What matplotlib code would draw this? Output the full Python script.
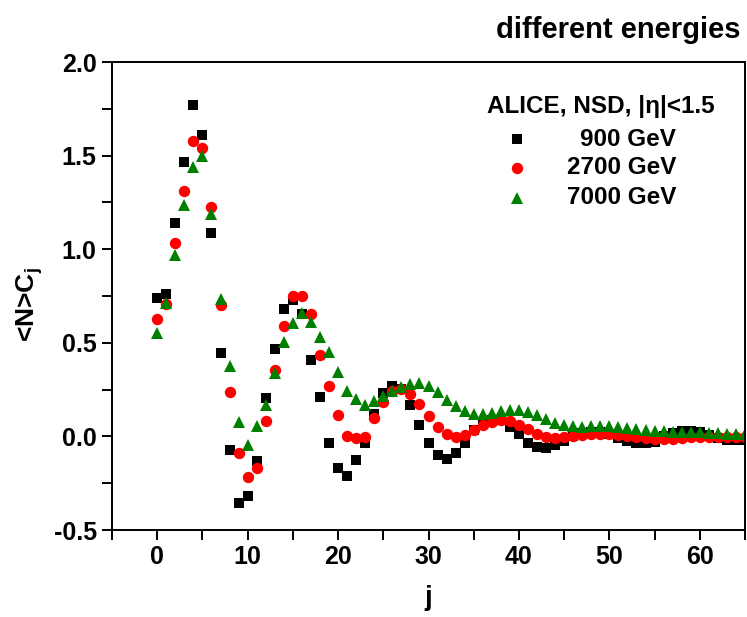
import matplotlib
matplotlib.use("Agg")
import matplotlib.pyplot as plt
from matplotlib.ticker import MultipleLocator, FormatStrFormatter

plt.rcParams['font.family'] = ['Liberation Sans', 'DejaVu Sans']
plt.rcParams['font.weight'] = 'bold'
plt.rcParams['mathtext.fontset'] = 'custom'
plt.rcParams['mathtext.rm'] = 'Liberation Sans:bold'
plt.rcParams['mathtext.it'] = 'Liberation Sans:bold'
plt.rcParams['mathtext.bf'] = 'Liberation Sans:bold'

# <N>C_j for j = 0..65 at three collision energies
j = list(range(66))

c_900 = [0.738, 0.759, 1.138, 1.467, 1.770, 1.612, 1.088, 0.447, -0.074, -0.354,
         -0.318, -0.130, 0.205, 0.465, 0.680, 0.729, 0.652, 0.408, 0.210, -0.037,
         -0.171, -0.213, -0.124, -0.037, 0.120, 0.234, 0.271, 0.255, 0.168, 0.063,
         -0.037, -0.101, -0.119, -0.089, -0.037, 0.034, 0.073, 0.085, 0.085, 0.052,
         0.013, -0.034, -0.058, -0.064, -0.046, -0.023, 0.000, 0.018, 0.025, 0.022,
         0.012, -0.011, -0.025, -0.034, -0.034, -0.028, 0.000, 0.020, 0.030, 0.030,
         0.025, 0.010, -0.010, -0.020, -0.020, -0.020]

c_2700 = [0.625, 0.707, 1.035, 1.311, 1.576, 1.539, 1.224, 0.702, 0.237, -0.089,
          -0.219, -0.167, 0.081, 0.355, 0.590, 0.750, 0.750, 0.656, 0.433, 0.271,
          0.113, 0.002, -0.007, -0.001, 0.100, 0.182, 0.244, 0.251, 0.226, 0.175,
          0.109, 0.050, 0.011, -0.003, 0.007, 0.034, 0.060, 0.077, 0.088, 0.081,
          0.063, 0.038, 0.012, -0.005, -0.009, -0.002, 0.002, 0.009, 0.014, 0.014,
          0.012, 0.007, 0.000, -0.005, -0.011, -0.014, -0.014, -0.012, -0.009, -0.005,
          -0.004, -0.004, -0.004, -0.004, -0.005, -0.005]

c_7000 = [0.554, 0.714, 0.969, 1.236, 1.437, 1.500, 1.188, 0.734, 0.376, 0.079,
          -0.044, 0.057, 0.168, 0.337, 0.506, 0.607, 0.658, 0.613, 0.533, 0.449,
          0.346, 0.244, 0.198, 0.168, 0.189, 0.218, 0.244, 0.262, 0.280, 0.283,
          0.271, 0.235, 0.194, 0.162, 0.136, 0.120, 0.118, 0.127, 0.138, 0.143,
          0.141, 0.130, 0.113, 0.091, 0.073, 0.061, 0.056, 0.052, 0.054, 0.056,
          0.056, 0.052, 0.047, 0.041, 0.036, 0.030, 0.027, 0.023, 0.023, 0.023,
          0.023, 0.020, 0.016, 0.014, 0.012, 0.011]

labels = ["900 GeV", "2700 GeV", "7000 GeV"]
legend_title = "ALICE, NSD, |\u03b7|<1.5"

W, H = 747, 617
fig = plt.figure(figsize=(W / 100, H / 100), dpi=100)
ax = fig.add_axes([112 / W, 1 - 530 / H, 633 / W, 468 / H])

ax.plot(j, c_900, ls='none', marker='s', ms=6.8, color='black', mew=0)
ax.plot(j, c_2700, ls='none', marker='o', ms=8.2, color='#ff0000', mew=0)
ax.plot(j, c_7000, ls='none', marker='^', ms=9.0, color='#008000', mew=0)

ax.set_xlim(-5, 65)
ax.set_ylim(-0.5, 2.0)
ax.xaxis.set_major_locator(MultipleLocator(10))
ax.xaxis.set_minor_locator(MultipleLocator(5))
ax.yaxis.set_major_locator(MultipleLocator(0.5))
ax.yaxis.set_minor_locator(MultipleLocator(0.25))
ax.yaxis.set_major_formatter(FormatStrFormatter('%.1f'))

for s in ax.spines.values():
    s.set_linewidth(1.4)
ax.tick_params(which='both', direction='out', length=7, width=1.4,
               top=False, right=False)
ax.tick_params(axis='y', which='major', labelsize=18, pad=4)
ax.tick_params(axis='x', which='major', labelsize=18, pad=4)
for lab in ax.get_xticklabels() + ax.get_yticklabels():
    lab.set_fontweight('bold')

fig.text(428 / W, 1 - 598 / H, 'j', ha='center', va='center',
         fontsize=20, fontweight='bold')
fig.text(30 / W, 1 - 305 / H, r'<N>C$_\mathrm{j}$', rotation=90,
         ha='center', va='center', fontsize=19, fontweight='bold')

fig.text(741 / W, 1 - 30 / H, 'different energies', ha='right', va='center',
         fontsize=21, fontweight='bold')

# legend block: title, markers and right-aligned labels
ax.text((601 - 112) / 633, (530 - 107) / 468, legend_title,
        transform=ax.transAxes, ha='center', va='center',
        fontsize=17.5, fontweight='bold')
markers = [('s', 'black', 6.8), ('o', '#ff0000', 8.2), ('^', '#008000', 9.0)]
rows_px = [139, 168, 198]
for (m, c, ms), lab, ypx in zip(markers, labels, rows_px):
    yy = (530 - ypx) / 468
    ax.plot([(517 - 112) / 633], [yy], marker=m, color=c, ms=ms, mew=0,
            transform=ax.transAxes, clip_on=False)
    ax.text((676 - 112) / 633, yy, lab, transform=ax.transAxes,
            ha='right', va='center', fontsize=17.5, fontweight='bold')

fig.savefig('out.png', dpi=100)
